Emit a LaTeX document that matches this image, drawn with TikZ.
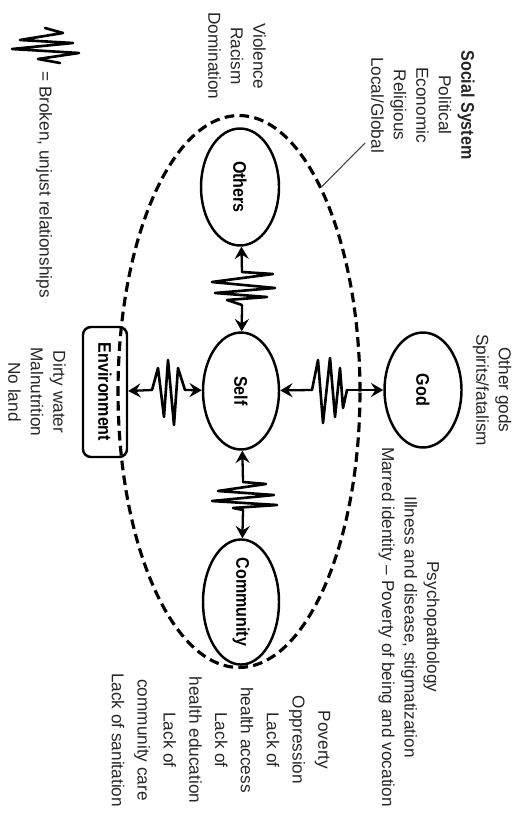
\documentclass[tikz,border=0pt]{standalone}
\usepackage{fontspec}
\setmainfont{Liberation Sans}
\newfontfamily\condensedfont[FakeStretch=0.88]{Liberation Sans}
\usetikzlibrary{shapes.geometric,arrows.meta,calc}

\begin{document}
\begin{tikzpicture}[
  x=0.02cm, y=-0.02cm,
  bubble/.style={ellipse, draw, line width=1.4pt, rotate=-90, inner sep=0pt,
    font=\condensedfont\bfseries\fontsize{10.4}{12}\selectfont},
  envbox/.style={rectangle, rounded corners=4.5pt, draw, line width=1.4pt, rotate=-90,
    inner sep=0pt, minimum width=2.6cm, minimum height=0.88cm,
    font=\condensedfont\bfseries\fontsize{10.4}{12}\selectfont},
  conn/.style={line width=1.3pt, -{Stealth[length=7pt,width=8pt,inset=2.5pt]}},
  squig/.style={line width=1.5pt, line join=round, line cap=round},
  txt/.style={rotate=-90, align=center, inner sep=0pt, text=black!85,
    font=\fontsize{9.8}{12.8}\selectfont},
  ring/.style={ellipse, draw, line width=1.8pt, dash pattern=on 5.5pt off 3pt,
    inner sep=0pt, minimum width=4.84cm, minimum height=11.04cm}
]
\useasboundingbox (0,0) rectangle (519,814);

% the social system around the person
\node[ring] (system) at (239,391.5) {};

% the five relationships
\node[bubble, minimum width=2.34cm, minimum height=1.52cm] (self) at (241,391) {Self};
\node[bubble, minimum width=2.34cm, minimum height=1.56cm] (others) at (240,187) {Others};
\node[bubble, minimum width=2.32cm, minimum height=1.52cm] (community) at (241,602) {Community};
\node[bubble, minimum width=2.30cm, minimum height=1.54cm] (god) at (423,390) {God};
\node[envbox] (env) at (105,392) {Environment};

% broken relationship: self -- god
\coordinate (gA) at (312,390);
\coordinate (gB) at (347,390);
\draw[conn] (gA) -- (self);
\draw[conn] (gB) -- (god);
\draw[squig] (gA) -- ++(6,-30) -- ++(5,63) -- ++(7,-65) -- ++(5,59) -- ++(5,-49) -- ++(3,40) -- (gB);

% broken relationship: self -- environment
\coordinate (eA) at (152,390);
\coordinate (eB) at (185,390);
\draw[conn] (eA) -- (env);
\draw[conn] (eB) -- (self);
\draw[squig] (eA) -- ++(6,-22) -- ++(6,49) -- ++(4,-57) -- ++(6,65) -- ++(4,-57) -- (eB);

% broken relationship: self -- others
\coordinate (oA) at (242,272);
\coordinate (oB) at (242,305);
\draw[conn] (oA) -- (others);
\draw[conn] (oB) -- (self);
\draw[squig] (oA) -- ++(31,2) -- ++(-61,8) -- ++(63,6) -- ++(-60,5) -- ++(52,4) -- ++(-40,3) -- (oB);

% broken relationship: self -- community
\coordinate (cA) at (243,482);
\coordinate (cB) at (243,510);
\draw[conn] (cA) -- (self);
\draw[conn] (cB) -- (community);
\draw[squig] (cA) -- ++(23,2) -- ++(-48,7) -- ++(56,4) -- ++(-62,6) -- ++(65,4) -- ++(-44,3) -- (cB);

% labels
\node[txt] (social) at (423,105) {{\condensedfont\bfseries\fontsize{10.4}{12.8}\selectfont Social System}\\Political\\Economic\\Religious\\Local/Global};
\coordinate (lg) at (365,143);
\draw[line width=0.6pt, black!75] (lg) -- (system.68);

\node[txt] (violence) at (237,56) {Violence\\Racism\\Domination};
\node[txt] (spirits) at (492,390) {Other gods\\Spirits/fatalism};
\node[txt] (psych) at (409,627) {Psychopathology\\Illness and disease, stigmatization\\Marred identity – Poverty of being and vocation};
\node[txt, font=\fontsize{9.8}{14.7}\selectfont] (poverty) at (221,740) {Poverty\\Oppression\\Lack of\\health access\\Lack of\\health education\\Lack of\\community care\\Lack of sanitation};
\node[txt] (dirty) at (37,392) {Dirty water\\Malnutrition\\No land};

% key
\draw[squig] (45,28) -- (63,33) -- (20,40) -- (73,43) -- (12,49) -- (79,53) -- (38,59) -- (60,63);
\node[txt, anchor=west] (key) at (44,71) {= Broken, unjust relationships};
\end{tikzpicture}
\end{document}
